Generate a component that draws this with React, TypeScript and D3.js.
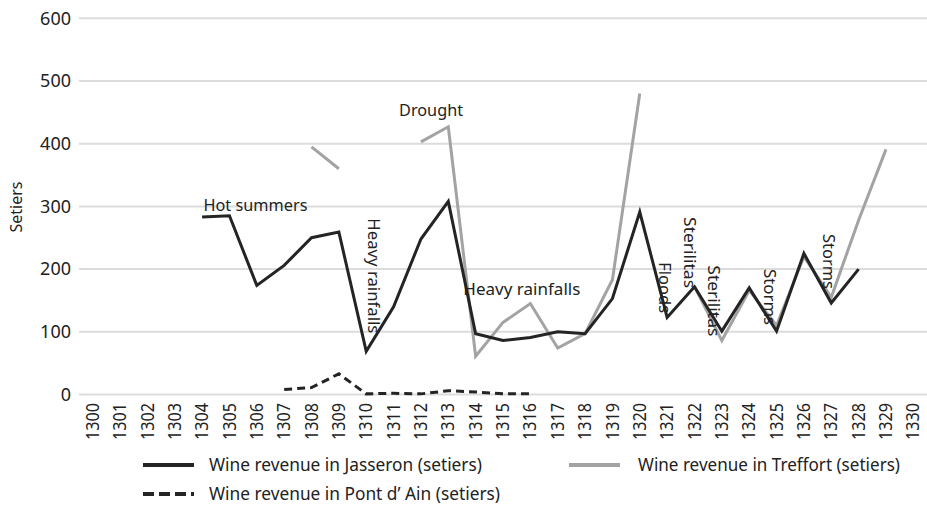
import React from "react";
import * as d3 from "d3";

const years: number[] = d3.range(1300, 1331);
const yTicks: number[] = [0, 100, 200, 300, 400, 500, 600];

const jasseron: (number | null)[] = [
  null, null, null, null, 283, 285, 174, 206, 250, 259,
  69, 140, 248, 308, 97, 86, 91, 100, 97, 153,
  291, 123, 172, 101, 170, 101, 225, 146, 200, null, null,
];
const treffort: (number | null)[] = [
  null, null, null, null, null, null, null, null, 395, 360,
  null, null, 403, 427, 61, 115, 145, 74, 97, 183,
  480, null, 172, 86, 166, 110, 220, 155, 278, 391, null,
];
const pontDAin: (number | null)[] = [
  null, null, null, null, null, null, null, 8, 11, 33,
  1, 2, 1, 6, 4, 1, 1, null, null, null,
  null, null, null, null, null, null, null, null, null, null, null,
];

const annotations = [
  { text: "Hot summers", year: 1304.05, value: 292, vertical: false, len: 104 },
  { text: "Drought", year: 1311.2, value: 444, vertical: false, len: 64 },
  { text: "Heavy rainfalls", year: 1313.55, value: 159, vertical: false, len: 117 },
  { text: "Heavy rainfalls", year: 1310.05, value: 281, vertical: true, len: 115 },
  { text: "Floods", year: 1320.7, value: 211, vertical: true, len: 51 },
  { text: "Sterilitas", year: 1321.6, value: 283, vertical: true, len: 71 },
  { text: "Sterilitas", year: 1322.5, value: 206, vertical: true, len: 71 },
  { text: "Storms", year: 1324.55, value: 200, vertical: true, len: 56 },
  { text: "Storms", year: 1326.7, value: 256, vertical: true, len: 55 },
];

const legendItems = [
  { label: "Wine revenue in Jasseron (setiers)", key: "j" },
  { label: "Wine revenue in Treffort (setiers)", key: "t" },
  { label: "Wine revenue in Pont d\u2019 Ain (setiers)", key: "p" },
];

const W = 927;
const H = 505;
const plotLeft = 79;
const plotRight = 927;
const font = "'Noto Sans', 'DejaVu Sans', sans-serif";

export default function App() {
  const band = (plotRight - plotLeft) / years.length;
  const x = d3
    .scaleLinear()
    .domain([1300, 1330])
    .range([plotLeft + band / 2, plotRight - band / 2]);
  const y = d3.scaleLinear().domain([0, 600]).range([394.5, 18.3]);

  const mk = (arr: (number | null)[]) =>
    d3
      .line<number | null>()
      .defined((d) => d !== null)
      .x((_, i) => x(years[i]))
      .y((d) => y(d as number))(arr) || "";

  const styles: Record<string, { stroke: string; dash?: string }> = {
    j: { stroke: "#242424" },
    t: { stroke: "#a3a3a3" },
    p: { stroke: "#242424", dash: "11,5" },
  };

  const legendPos = [
    { x1: 143, x2: 194, ty: 465, tx: 209, len: 273 },
    { x1: 569, x2: 620, ty: 465, tx: 638, len: 262 },
    { x1: 143, x2: 194, ty: 494, tx: 209, len: 291 },
  ];

  return (
    <svg
      width={W}
      height={H}
      style={{ position: "absolute", left: 0, top: 0, background: "#fff" }}
    >
      {yTicks.map((t) => (
        <line
          key={t}
          x1={plotLeft}
          x2={plotRight}
          y1={y(t)}
          y2={y(t)}
          stroke="#dcdcdc"
          strokeWidth={2}
        />
      ))}
      {yTicks.map((t) => (
        <text
          key={"l" + t}
          x={71}
          y={y(t)}
          dy="0.35em"
          textAnchor="end"
          fontFamily={font}
          fontSize={18}
          fill="#222"
        >
          {t}
        </text>
      ))}
      <text
        transform={`translate(22,207) rotate(-90)`}
        textAnchor="middle"
        fontFamily={font}
        fontSize={16}
        fill="#222"
      >
        Setiers
      </text>
      {years.map((yr) => (
        <text
          key={yr}
          transform={`translate(${x(yr)},403) rotate(-90)`}
          textAnchor="end"
          dy="0.35em"
          fontFamily={font}
          fontSize={17.5}
          fill="#222"
          textLength={37}
          lengthAdjust="spacingAndGlyphs"
        >
          {yr}
        </text>
      ))}
      <path d={mk(treffort)} fill="none" stroke={styles.t.stroke} strokeWidth={3} />
      <path d={mk(jasseron)} fill="none" stroke={styles.j.stroke} strokeWidth={3} />
      <path
        d={mk(pontDAin)}
        fill="none"
        stroke={styles.p.stroke}
        strokeWidth={3}
        strokeDasharray="8,5"
      />
      {annotations.map((a, i) =>
        a.vertical ? (
          <text
            key={"a" + i}
            transform={`translate(${x(a.year)},${y(a.value)}) rotate(90)`}
            fontFamily={font}
            fontSize={17}
            fill="#222"
            textLength={a.len}
            lengthAdjust="spacingAndGlyphs"
          >
            {a.text}
          </text>
        ) : (
          <text
            key={"a" + i}
            x={x(a.year)}
            y={y(a.value)}
            fontFamily={font}
            fontSize={17}
            fill="#222"
            textLength={a.len}
            lengthAdjust="spacingAndGlyphs"
          >
            {a.text}
          </text>
        )
      )}
      {legendItems.map((l, i) => {
        const p = legendPos[i];
        const s = styles[l.key];
        return (
          <g key={l.key}>
            <line
              x1={p.x1}
              x2={p.x2}
              y1={p.ty}
              y2={p.ty}
              stroke={s.stroke}
              strokeWidth={4}
              strokeDasharray={s.dash}
            />
            <text
              x={p.tx}
              y={p.ty}
              dy="0.35em"
              fontFamily={font}
              fontSize={18}
              fill="#222"
              textLength={p.len}
              lengthAdjust="spacingAndGlyphs"
            >
              {l.label}
            </text>
          </g>
        );
      })}
    </svg>
  );
}
